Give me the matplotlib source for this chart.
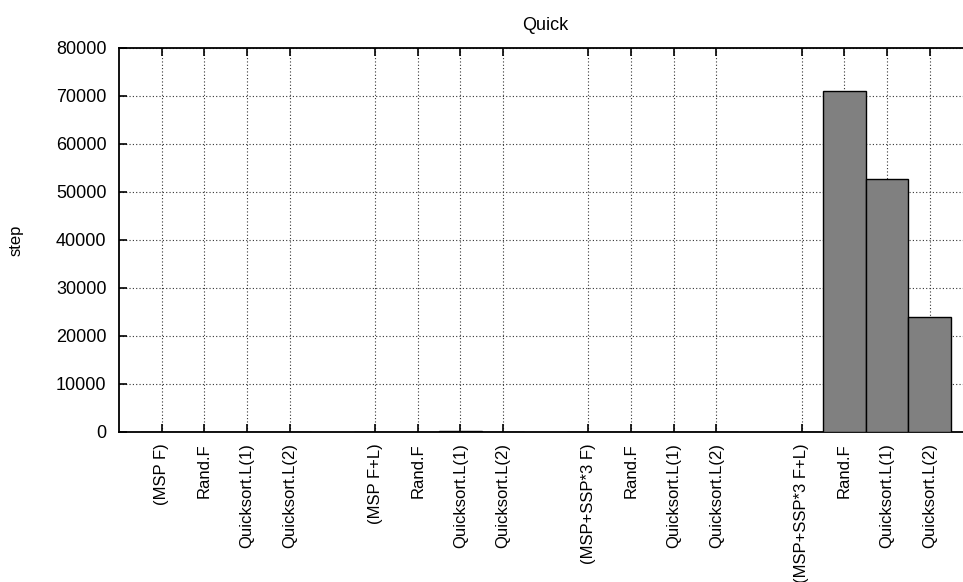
import matplotlib
matplotlib.use("Agg")
import matplotlib.pyplot as plt

plt.rcParams["font.family"] = ["Liberation Sans", "DejaVu Sans"]

# Histogram groups: a header slot followed by three measured runs
groups = ["(MSP F)", "(MSP F+L)", "(MSP+SSP*3 F)", "(MSP+SSP*3 F+L)"]
runs = ["Rand.F", "Quicksort.L(1)", "Quicksort.L(2)"]

# step counts per group (header slot, Rand.F, Quicksort.L(1), Quicksort.L(2))
steps_msp_f = [0, 20, 60, 40]
steps_msp_fl = [0, 30, 180, 90]
steps_msp_ssp_f = [0, 25, 70, 45]
steps_msp_ssp_fl = [0, 71000, 52700, 24000]
all_steps = [steps_msp_f, steps_msp_fl, steps_msp_ssp_f, steps_msp_ssp_fl]

y_ticks = [0, 10000, 20000, 30000, 40000, 50000, 60000, 70000, 80000]

fig = plt.figure(figsize=(9.63, 5.82), dpi=100)
W, H = 963.0, 582.0
ax = fig.add_axes([119 / W, 150 / H, (972.4 - 119) / W, 384 / H])

slot = len(runs) + 2  # header + runs + gap
positions, labels, heights = [], [], []
for g, (name, vals) in enumerate(zip(groups, all_steps)):
    base = g * slot
    for i, (lab, v) in enumerate(zip([name] + runs, vals)):
        positions.append(base + i)
        labels.append(lab)
        heights.append(v)

ax.bar(positions, heights, width=1.0, color="#808080",
       edgecolor="black", linewidth=1.0, zorder=3)

ax.set_xlim(-1, 19)
ax.set_ylim(0, 80000)
ax.set_xticks(positions)
ax.set_xticklabels(labels, rotation=90, fontsize=12)
ax.set_yticks(y_ticks)
ax.set_yticklabels([str(v) for v in y_ticks], fontsize=13)

ax.tick_params(axis="both", direction="in", length=6, width=1.2,
               top=True, right=True, colors="black")
ax.tick_params(axis="x", pad=8)
ax.tick_params(axis="y", pad=9)

ax.grid(True, color="#333333", linestyle=(0, (1, 2)), linewidth=0.8, zorder=0)
ax.set_axisbelow(True)

for s in ax.spines.values():
    s.set_linewidth(1.3)
    s.set_color("black")

ax.set_title("Quick", fontsize=13, pad=13)
ax.set_ylabel("step", fontsize=12)
ax.yaxis.label.set_va("center")
ax.yaxis.set_label_coords((16 - 119) / (972.4 - 119), 0.5)

fig.savefig("out.png", dpi=100)
